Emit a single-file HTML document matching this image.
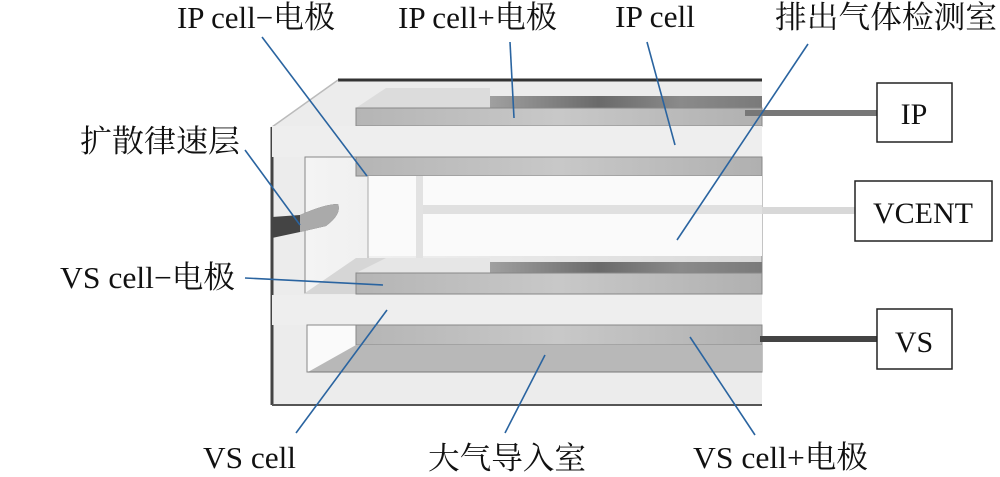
<!DOCTYPE html>
<html><head><meta charset="utf-8"><style>
html,body{margin:0;padding:0;background:#fff;}
svg{display:block;}
text{font-family:"Liberation Serif","Noto Serif CJK SC",serif;fill:#111;}
</style></head><body>
<svg width="1000" height="477" viewBox="0 0 1000 477" xmlns="http://www.w3.org/2000/svg">
<defs>
<linearGradient id="bar" x1="0" y1="0" x2="1" y2="0">
<stop offset="0" stop-color="#b5b5b5"/><stop offset="0.5" stop-color="#c8c8c8"/><stop offset="1" stop-color="#b0b0b0"/>
</linearGradient>
<linearGradient id="dk" x1="0" y1="0" x2="1" y2="0">
<stop offset="0" stop-color="#a0a0a0"/><stop offset="0.4" stop-color="#6a6a6a"/><stop offset="0.7" stop-color="#8a8a8a"/><stop offset="1" stop-color="#7a7a7a"/>
</linearGradient>
<linearGradient id="side" x1="0" y1="0" x2="1" y2="0">
<stop offset="0" stop-color="#f4f4f4"/><stop offset="1" stop-color="#d8d8d8"/>
</linearGradient>
</defs>
<polygon points="272,127 338,80 762,80 762,405 272,405" fill="#ececec"/>
<line x1="338" y1="80" x2="762" y2="80" stroke="#333" stroke-width="3"/>
<line x1="272" y1="127" x2="338" y2="80" stroke="#bbb" stroke-width="1.5"/>
<line x1="272" y1="127" x2="272" y2="405" stroke="#444" stroke-width="3"/>
<line x1="272" y1="405" x2="762" y2="405" stroke="#555" stroke-width="2"/>
<line x1="272" y1="127" x2="762" y2="127" stroke="#aaa" stroke-width="1"/>
<polygon points="356,108 386,88 490,88 490,96 762,96 762,108" fill="#dcdcdc"/>
<rect x="490" y="96" width="272" height="12" fill="url(#dk)"/>
<rect x="356" y="108" width="406" height="18" fill="url(#bar)" stroke="#888" stroke-width="1"/>
<rect x="272" y="126" width="490" height="31" fill="#eeeeee"/>
<rect x="305" y="157" width="457" height="136" fill="url(#side)" stroke="#888" stroke-width="1"/>
<rect x="356" y="157" width="406" height="19" fill="url(#bar)" stroke="#888" stroke-width="1"/>
<rect x="368" y="176" width="394" height="80" fill="#fafafa"/>
<line x1="368" y1="176" x2="368" y2="265" stroke="#aaa" stroke-width="1"/>
<rect x="416" y="176" width="7" height="82" fill="#e2e2e2"/>
<rect x="423" y="205" width="339" height="9" fill="#e0e0e0"/>
<polygon points="305,293 356,258 490,258 490,262 762,262 762,294 305,294" fill="#d6d6d6"/>
<polygon points="356,273 386,258 490,258 490,273" fill="#e6e6e6"/>
<rect x="490" y="262" width="272" height="11" fill="url(#dk)"/>
<rect x="356" y="273" width="406" height="21" fill="url(#bar)" stroke="#888" stroke-width="1"/>
<rect x="272" y="295" width="490" height="30" fill="#eeeeee"/>
<rect x="307" y="325" width="455" height="47" fill="#fafafa" stroke="#888" stroke-width="1"/>
<rect x="356" y="325" width="406" height="20" fill="url(#bar)" stroke="#888" stroke-width="1"/>
<polygon points="308,372 356,345 762,345 762,372" fill="#b8b8b8"/>
<line x1="308" y1="372" x2="762" y2="372" stroke="#777" stroke-width="1"/>
<path d="M272,217 L300,215 Q325,204 338,204 Q342,214 326,226 L300,232 L272,238 Z" fill="#444"/>
<path d="M300,215 Q325,204 338,204 Q342,214 326,226 L300,232 Z" fill="#aaa"/>
<rect x="745" y="110" width="132" height="6" fill="#777"/>
<rect x="762" y="207" width="93" height="7" fill="#d8d8d8"/>
<rect x="760" y="336" width="117" height="6" fill="#444"/>
<rect x="877" y="83" width="75" height="59" fill="#fff" stroke="#222" stroke-width="1.5"/>
<rect x="855" y="181" width="137" height="60" fill="#fff" stroke="#222" stroke-width="1.5"/>
<rect x="877" y="309" width="75" height="60" fill="#fff" stroke="#222" stroke-width="1.5"/>
<text x="914" y="124" font-size="30" text-anchor="middle">IP</text>
<text x="923" y="223" font-size="30" text-anchor="middle">VCENT</text>
<text x="914" y="352" font-size="30" text-anchor="middle">VS</text>
<g stroke="#2a64a0" stroke-width="1.6" fill="none">
<line x1="262" y1="37" x2="367" y2="176"/>
<line x1="510" y1="42" x2="514" y2="118"/>
<line x1="647" y1="42" x2="675" y2="145"/>
<line x1="808" y1="44" x2="677" y2="240"/>
<line x1="245" y1="150" x2="300" y2="225"/>
<line x1="245" y1="278" x2="383" y2="285"/>
<line x1="296" y1="433" x2="387" y2="310"/>
<line x1="505" y1="433" x2="545" y2="355"/>
<line x1="755" y1="435" x2="690" y2="337"/>
</g>
<g font-size="31">
<text x="177" y="28" textLength="158" lengthAdjust="spacingAndGlyphs">IP cell−电极</text>
<text x="398" y="28" textLength="159" lengthAdjust="spacingAndGlyphs">IP cell+电极</text>
<text x="615" y="27" textLength="80" lengthAdjust="spacingAndGlyphs">IP cell</text>
<text x="775" y="28" textLength="222" lengthAdjust="spacingAndGlyphs">排出气体检测室</text>
<text x="80" y="152" textLength="160" lengthAdjust="spacingAndGlyphs">扩散律速层</text>
<text x="60" y="288" textLength="175" lengthAdjust="spacingAndGlyphs">VS cell−电极</text>
<text x="203" y="468" textLength="93" lengthAdjust="spacingAndGlyphs">VS cell</text>
<text x="428" y="469" textLength="158" lengthAdjust="spacingAndGlyphs">大气导入室</text>
<text x="693" y="468" textLength="175" lengthAdjust="spacingAndGlyphs">VS cell+电极</text>
</g>
</svg>
</body></html>
